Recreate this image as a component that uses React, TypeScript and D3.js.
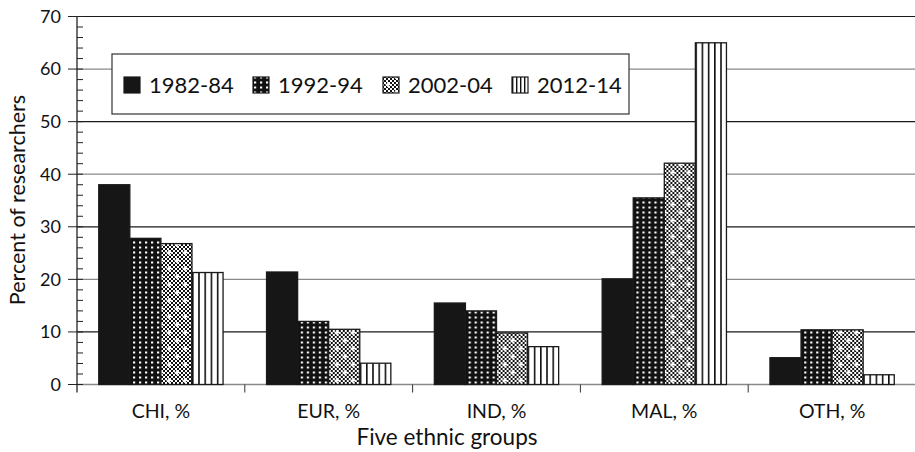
import React from "react";
import * as d3 from "d3";

const categories = ["CHI, %", "EUR, %", "IND, %", "MAL, %", "OTH, %"];
const seriesNames = ["1982-84", "1992-94", "2002-04", "2012-14"];
const s1982 = [38, 21.4, 15.5, 20.1, 5.1];
const s1992 = [27.8, 12, 14, 35.5, 10.4];
const s2002 = [26.8, 10.5, 9.8, 42.1, 10.4];
const s2012 = [21.3, 4.05, 7.2, 65, 1.85];
const seriesValues = [s1982, s1992, s2002, s2012];
const yTicks = [0, 10, 20, 30, 40, 50, 60, 70];
const yMinorTicks = d3.range(0, 70.01, 2);
const yTitle = "Percent of researchers";
const xTitle = "Five ethnic groups";

const W = 915;
const H = 452;
const FONT = "Lato, 'DejaVu Sans', sans-serif";

const fills = ["#161616", "url(#pDots)", "url(#pChecker)", "url(#pStripes)"];

export default function App() {
  const left = 77;
  const right = 916;
  const top = 16.5;
  const bottom = 384.5;

  const x0 = d3.scaleBand<string>().domain(categories).range([left, right]).paddingInner(0).paddingOuter(0);
  const x1 = d3.scaleBand<string>().domain(seriesNames).range([0, x0.bandwidth()]).paddingInner(0).paddingOuter(0.7);
  const y = d3.scaleLinear().domain([0, 70]).range([bottom, top]);

  const checkerCells: JSX.Element[] = [];
  for (let i = 0; i < 8; i++) {
    for (let j = 0; j < 8; j++) {
      if ((i + j) % 2 === 0) {
        checkerCells.push(<rect key={`c${i}-${j}`} x={i * 2} y={j * 2} width={2} height={2} fill="#111" />);
      }
    }
  }

  const gridColor = (v: number) => ((v / 10) % 2 === 1 ? "#1a1a1a" : "#8a8a8a");

  const legendX = [124, 253, 383, 512];

  return (
    <svg width={W} height={H} style={{ position: "absolute", left: 0, top: 0, background: "#fff" }}>
      <defs>
        <pattern id="pDots" patternUnits="userSpaceOnUse" width={6} height={5}>
          <rect x={0} y={0} width={6} height={5} fill="#111" />
          <rect x={2} y={1.5} width={2.2} height={2} fill="#fff" />
        </pattern>
        <pattern id="pChecker" patternUnits="userSpaceOnUse" width={16} height={16}>
          <rect x={0} y={0} width={16} height={16} fill="#fff" />
          {checkerCells}
          <path d="M4 2v5M1.5 4.5h5" stroke="#fff" strokeWidth={1.6} />
          <path d="M12 10v5M9.5 12.5h5" stroke="#fff" strokeWidth={1.6} />
        </pattern>
        <pattern id="pStripes" patternUnits="objectBoundingBox" x={0} y={0} width={0.2} height={1}>
          <rect x={0} y={0} width={20} height={400} fill="#fff" />
          <rect x={0} y={0} width={1.6} height={400} fill="#111" />
        </pattern>
        <pattern id="pStripesL" patternUnits="objectBoundingBox" x={0} y={0} width={0.25} height={1}>
          <rect x={0} y={0} width={20} height={400} fill="#fff" />
          <rect x={0} y={0} width={1.4} height={400} fill="#111" />
        </pattern>
      </defs>

      {yTicks.map((v) => (
        <line key={`g${v}`} x1={left} x2={right} y1={y(v)} y2={y(v)} stroke={gridColor(v)} strokeWidth={v === 0 ? 1.6 : 1.2} />
      ))}

      {categories.map((c, ci) => (
        <g key={c} transform={`translate(${x0(c)},0)`}>
          {seriesNames.map((s, si) => {
            const v = seriesValues[si][ci];
            return (
              <rect
                key={s}
                x={x1(s)}
                y={y(v)}
                width={x1.bandwidth()}
                height={y(0) - y(v)}
                fill={fills[si]}
                stroke="#1a1a1a"
                strokeWidth={1.3}
              />
            );
          })}
        </g>
      ))}

      <line x1={left} x2={left} y1={top} y2={bottom + 8} stroke="#222" strokeWidth={1.3} />
      {yMinorTicks.map((v) => (
        <line key={`m${v}`} x1={left} x2={left + 6} y1={y(v)} y2={y(v)} stroke="#222" strokeWidth={1} />
      ))}
      {yTicks.map((v) => (
        <g key={`t${v}`}>
          <line x1={left - 9} x2={left} y1={y(v)} y2={y(v)} stroke="#222" strokeWidth={1} />
          <text x={61} y={y(v)} dy="0.35em" textAnchor="end" fontFamily={FONT} fontSize={18} fill="#111">
            {v}
          </text>
        </g>
      ))}

      {categories.slice(1).map((c) => (
        <line key={`xt${c}`} x1={x0(c)} x2={x0(c)} y1={bottom} y2={bottom + 8} stroke="#333" strokeWidth={1} />
      ))}
      {categories.map((c) => (
        <text key={`xl${c}`} x={(x0(c) as number) + x0.bandwidth() / 2} y={418} textAnchor="middle" fontFamily={FONT} fontSize={19.5} fill="#111">
          {c}
        </text>
      ))}

      <text x={447} y={445} textAnchor="middle" fontFamily={FONT} fontSize={22.5} fill="#111">
        {xTitle}
      </text>
      <text transform={`translate(25,200) rotate(-90)`} textAnchor="middle" fontFamily={FONT} fontSize={21.5} fill="#111">
        {yTitle}
      </text>

      <rect x={112} y={54} width={517} height={60} fill="#fff" stroke="#333" strokeWidth={1.2} />
      {seriesNames.map((s, i) => (
        <g key={`lg${s}`}>
          <rect x={legendX[i]} y={77} width={16} height={16} fill={i === 3 ? "url(#pStripesL)" : fills[i]} stroke="#1a1a1a" strokeWidth={1.2} />
          <text x={legendX[i] + 25} y={85} dy="0.36em" fontFamily={FONT} fontSize={22} fill="#111">
            {s}
          </text>
        </g>
      ))}
    </svg>
  );
}
